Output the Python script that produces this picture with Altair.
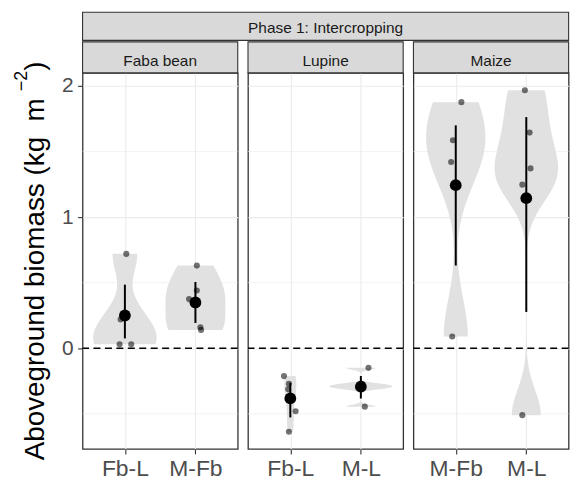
import json
import numpy as np
import pandas as pd
import altair as alt

# ---- data -------------------------------------------------------------
panels = ["Faba bean", "Lupine", "Maize"]
group_crop = ["Faba bean", "Faba bean", "Lupine", "Lupine", "Maize", "Maize"]
group_treat = ["Fb-L", "M-Fb", "Fb-L", "M-L", "M-Fb", "M-L"]
group_pos = [1, 2, 1, 2, 1, 2]

# plot-level aboveground biomass (kg m-2) per crop x treatment
biomass_faba_fbl = [0.72, 0.22, 0.03, 0.03]
biomass_faba_mfb = [0.63, 0.44, 0.375, 0.16, 0.14]
biomass_lupine_fbl = [-0.212, -0.27, -0.313, -0.48, -0.636]
biomass_lupine_ml = [-0.149, -0.275, -0.29, -0.305, -0.445]
biomass_maize_mfb = [1.876, 1.586, 1.42, 0.09]
biomass_maize_ml = [1.967, 1.644, 1.371, 1.247, -0.51]

# horizontal jitter of the raw points (category units)
jitter_faba_fbl = [0.02, -0.06, -0.075, 0.09]
jitter_faba_mfb = [0.02, 0.02, -0.09, 0.07, 0.08]
jitter_lupine_fbl = [-0.09, -0.02, -0.03, 0.075, -0.02]
jitter_lupine_ml = [0.108, 0.02, -0.01, 0.03, 0.056]
jitter_maize_mfb = [0.08, -0.04, -0.065, -0.05]
jitter_maize_ml = [-0.02, 0.047, 0.06, -0.056, -0.056]

# interval drawn through each group mean
interval_low = [0.075, 0.193, -0.527, -0.383, 0.631, 0.277]
interval_high = [0.485, 0.505, -0.262, -0.211, 1.699, 1.762]

y_major = [0, 1, 2]
y_minor = [-0.5, 0.5, 1.5]
reference_level = 0

phase_label = "Phase 1: Intercropping"
# y title pieces: main text, superscript exponent, closing bracket
y_title_main = "Aboveground biomass (kg\u00a0\u00a0m"
y_title_sup = "\u22122"
y_title_end = ")"

all_biomass = [biomass_faba_fbl, biomass_faba_mfb, biomass_lupine_fbl,
               biomass_lupine_ml, biomass_maize_mfb, biomass_maize_ml]
all_jitter = [jitter_faba_fbl, jitter_faba_mfb, jitter_lupine_fbl,
              jitter_lupine_ml, jitter_maize_mfb, jitter_maize_ml]

# ---- tables -----------------------------------------------------------
point_rows = []
for crop, treat, pos, vals, jit in zip(group_crop, group_treat, group_pos,
                                       all_biomass, all_jitter):
    for v, j in zip(vals, jit):
        point_rows.append({"crop": crop, "treat": treat, "pos": pos,
                           "xj": pos + j, "biomass": v})
points = pd.DataFrame(point_rows)

intervals = pd.DataFrame({"crop": group_crop, "treat": group_treat,
                          "pos": group_pos, "low": interval_low,
                          "high": interval_high})


def ydensity(vals, n=256):
    """Gaussian KDE over the data range, bandwidth by the nrd0 rule."""
    x = np.asarray(vals, dtype=float)
    sd = x.std(ddof=1)
    q75, q25 = np.percentile(x, [75, 25])
    lo = min(sd, (q75 - q25) / 1.34)
    bw = 0.9 * lo * len(x) ** -0.2
    grid = np.linspace(x.min(), x.max(), n)
    z = (grid[:, None] - x[None, :]) / bw
    dens = np.exp(-0.5 * z ** 2).sum(axis=1) / (len(x) * bw * np.sqrt(2 * np.pi))
    return grid, dens


violin_parts = []
for crop, treat, pos, vals in zip(group_crop, group_treat, group_pos, all_biomass):
    grid, dens = ydensity(vals)
    violin_parts.append(pd.DataFrame({"crop": crop, "treat": treat, "pos": pos,
                                      "y": grid, "density": dens}))
violins = pd.concat(violin_parts, ignore_index=True)
# equal-area scaling within each panel, full width 0.9
violins["vw"] = violins["density"] / violins.groupby("crop")["density"].transform("max")
violins["left"] = violins["pos"] - violins["vw"] * 0.45
violins["right"] = violins["pos"] + violins["vw"] * 0.45

# ---- styling ----------------------------------------------------------
W, H, GAP = 156, 378, 10.3
LEFT, TOP = 81.7, 70.5          # room for the y axis and the strips
FONT = "Liberation Sans"
GRID = "#EBEBEB"
DARK = "#333333"
STRIP_FILL = "#D9D9D9"
x_scale = alt.Scale(domain=[0.4, 2.6], nice=False, zero=False)
y_scale = alt.Scale(domain=[-0.767, 2.099], nice=False, zero=False)

# Arial / Liberation Sans advance widths (em) for laying out the y title
ADV = {"A": .667, "b": .556, "o": .556, "v": .5, "e": .556, "g": .556,
       "r": .333, "u": .556, "n": .556, "d": .556, " ": .278, "i": .222,
       "m": .833, "a": .556, "s": .5, "(": .333, "k": .5, "\u00a0": .278,
       "\u2212": .584, "2": .556, ")": .333}


def text_width(s, size):
    return sum(ADV[ch] for ch in s) * size


TITLE_SIZE, SUP_SIZE = 28, 18
SUP_GAP, SUP_RISE = 7, 17


def make_panel(crop, idx):
    cats = [t for c, t in zip(group_crop, group_treat) if c == crop]
    label_expr = json.dumps(cats) + "[datum.value - 1]"
    x_axis = alt.Axis(values=[1, 2], labelExpr=label_expr, title=None,
                      grid=True, gridColor=GRID, gridWidth=1.1, domain=False,
                      tickColor=DARK, tickWidth=1.1, tickSize=5,
                      labelFontSize=23, labelColor="#4D4D4D", labelPadding=4,
                      labelFont=FONT, labelFlush=False)
    if idx == 0:
        y_axis = alt.Axis(values=y_major, format="d", title=None,
                          grid=True, gridColor=GRID, gridWidth=1.1,
                          domain=False, tickColor=DARK, tickWidth=1.1,
                          tickSize=5, labelFontSize=21, labelColor="#4D4D4D",
                          labelPadding=4.5, labelFont=FONT)
    else:
        y_axis = alt.Axis(values=y_major, title=None, labels=False, ticks=False,
                          domain=False, grid=True, gridColor=GRID, gridWidth=1.1)

    pts = points[points.crop == crop]
    vio = violins[violins.crop == crop]
    itv = intervals[intervals.crop == crop]
    strip = pd.DataFrame({"crop": [crop], "phase": [phase_label],
                          "t_main": [y_title_main], "t_sup": [y_title_sup],
                          "t_end": [y_title_end]})

    minor = alt.Chart(pd.DataFrame({"g": y_minor})).mark_rule(
        color=GRID, strokeWidth=0.6
    ).encode(y=alt.Y("g:Q", scale=y_scale, axis=y_axis))

    hline = alt.Chart(strip).mark_rule(
        color="black", strokeWidth=1.6, strokeDash=[7, 4.5]
    ).encode(y=alt.datum(reference_level))

    area = alt.Chart(vio).mark_area(
        orient="horizontal", color="#E1E1E1", opacity=1
    ).encode(
        y=alt.Y("y:Q", scale=y_scale),
        x=alt.X("left:Q", scale=x_scale, axis=x_axis, stack=None),
        x2="right:Q",
        detail="treat:N",
    )

    dots = alt.Chart(pts).mark_circle(size=38, color="black", opacity=0.55).encode(
        x=alt.X("xj:Q", scale=x_scale),
        y=alt.Y("biomass:Q", scale=y_scale),
    )

    bars = alt.Chart(itv).mark_rule(color="black", strokeWidth=2).encode(
        x=alt.X("pos:Q", scale=x_scale),
        y=alt.Y("low:Q", scale=y_scale),
        y2="high:Q",
    )

    means = alt.Chart(pts).mark_circle(size=140, color="black", opacity=1).encode(
        x=alt.X("pos:Q", scale=x_scale),
        y=alt.Y("mean(biomass):Q", scale=y_scale),
    )

    strip_box = alt.Chart(strip).mark_rect(
        fill=STRIP_FILL, stroke=DARK, strokeWidth=1.1
    ).encode(x=alt.value(0), x2=alt.value(W), y=alt.value(-31.2), y2=alt.value(0))

    strip_text = alt.Chart(strip).mark_text(
        font=FONT, fontSize=15.5, color="#1A1A1A", align="center",
        baseline="alphabetic"
    ).encode(x=alt.value(W / 2), y=alt.value(-7.4), text="crop:N")

    layers = [minor, hline, area, dots, bars, means, strip_box, strip_text]

    if idx == 0:
        total = 3 * W + 2 * GAP
        phase_box = alt.Chart(strip).mark_rect(
            fill=STRIP_FILL, stroke=DARK, strokeWidth=1.1
        ).encode(x=alt.value(0), x2=alt.value(total),
                 y=alt.value(-61), y2=alt.value(-32.7))
        phase_text = alt.Chart(strip).mark_text(
            font=FONT, fontSize=15.5, color="#1A1A1A", align="center",
            baseline="alphabetic"
        ).encode(x=alt.value(total / 2), y=alt.value(-40), text="phase:N")

        # rotated y title, centred on the panel, with a raised exponent
        main_w = text_width(y_title_main, TITLE_SIZE)
        sup_w = text_width(y_title_sup, SUP_SIZE)
        end_w = text_width(y_title_end, TITLE_SIZE)
        full = main_w + SUP_GAP + sup_w + end_w
        start = H / 2 + full / 2
        base_x = 42.8 - LEFT
        title_kw = dict(font=FONT, color="black", align="left",
                        baseline="alphabetic", angle=270)
        t_main = alt.Chart(strip).mark_text(fontSize=TITLE_SIZE, **title_kw).encode(
            x=alt.value(base_x), y=alt.value(start), text="t_main:N")
        t_sup = alt.Chart(strip).mark_text(fontSize=SUP_SIZE, **title_kw).encode(
            x=alt.value(base_x - SUP_RISE),
            y=alt.value(start - main_w - SUP_GAP), text="t_sup:N")
        t_end = alt.Chart(strip).mark_text(fontSize=TITLE_SIZE, **title_kw).encode(
            x=alt.value(base_x),
            y=alt.value(start - main_w - SUP_GAP - sup_w), text="t_end:N")

        # zero-size, invisible anchor pinning the chart's top-left corner
        anchor = alt.Chart(strip).mark_rect(opacity=0).encode(
            x=alt.value(-LEFT), x2=alt.value(-LEFT + 1),
            y=alt.value(-TOP), y2=alt.value(-TOP + 1))
        layers += [phase_box, phase_text, t_main, t_sup, t_end, anchor]

    return alt.layer(*layers).properties(width=W, height=H)


chart = alt.hconcat(
    *[make_panel(c, i) for i, c in enumerate(panels)],
    spacing=GAP, bounds="flush",
).properties(
    padding={"left": 0, "top": 0, "right": 0, "bottom": 0},
).configure(
    font=FONT,
).configure_view(
    stroke=DARK, strokeWidth=1.3,
)

chart.save("out.html", embed_options={"renderer": "svg", "actions": False})
